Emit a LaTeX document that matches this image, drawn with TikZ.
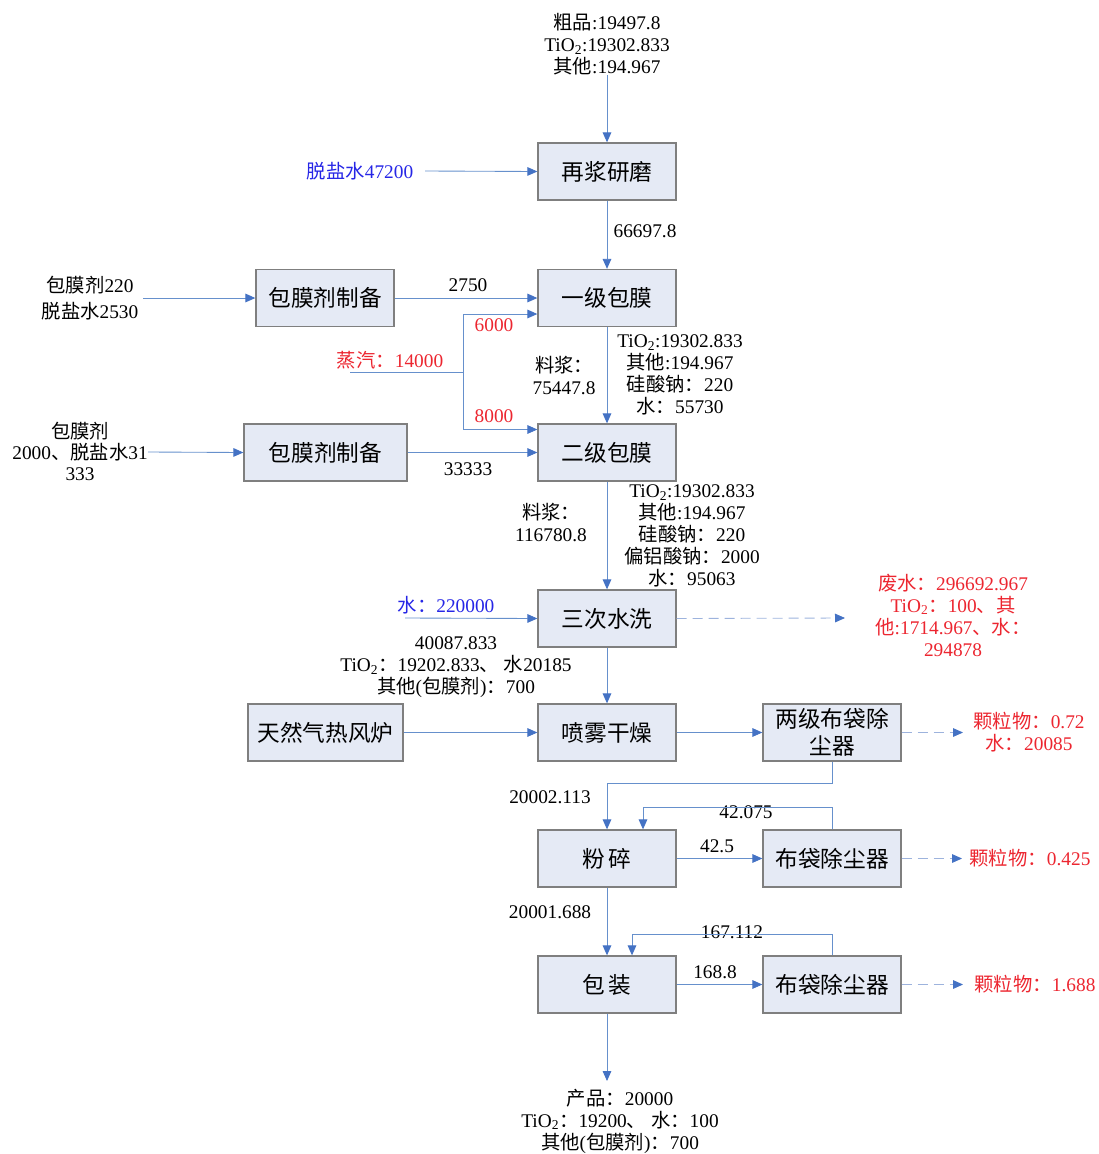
\documentclass[tikz,border=0pt]{standalone}
\usepackage{fontspec}
\setmainfont{Liberation Serif}
\newfontfamily\cjk{Noto Sans CJK SC}
\usetikzlibrary{arrows.meta}
\newcommand\zh[1]{{\cjk #1}}
\definecolor{boxfill}{HTML}{E5EAF5}
\definecolor{boxline}{HTML}{7F7F7F}
\definecolor{flowblue}{HTML}{6690CC}
\definecolor{tipblue}{HTML}{4472C4}
\definecolor{dashblue}{HTML}{9DB3DD}
\definecolor{labred}{HTML}{EC2630}
\definecolor{labblue}{HTML}{2626E6}
\tikzset{
  proc/.style={draw=boxline, fill=boxfill, line width=1pt, minimum width=103.5pt,
    minimum height=42.75pt, inner sep=0pt, align=center,
    font=\cjk\fontsize{17}{20}\selectfont},
  lab/.style={inner sep=0pt, align=center, font=\fontsize{14.5}{16.5}\selectfont},
  flow/.style={draw=flowblue, line width=0.65pt,
    -{Triangle[length=7.5pt,width=6.5pt,color=tipblue]}},
  plain/.style={draw=flowblue, line width=0.65pt},
  vent/.style={draw=dashblue, line width=0.65pt, dash pattern=on 7.5pt off 4.5pt,
    -{Triangle[length=7.5pt,width=6.5pt,color=tipblue]}},
}
\begin{document}
\begin{tikzpicture}[x=0.75pt, y=-0.75pt]
\useasboundingbox (0,0) rectangle (1099,1154);

% process boxes
\node[proc] (g1)  at (607,171.5) {再浆研磨};
\node[proc] (c1)  at (607,298)   {一级包膜};
\node[proc] (c2)  at (607,452.5) {二级包膜};
\node[proc] (w3)  at (607,618.5) {三次水洗};
\node[proc] (sd)  at (607,732.5) {喷雾干燥};
\node[proc] (fs)  at (607,858.5) {粉\,碎};
\node[proc] (bz)  at (607,984.5) {包\,装};
\node[proc] (p1)  at (325,298)   {包膜剂制备};
\node[proc, minimum width=122.25pt] (p2) at (325.5,452.5) {包膜剂制备};
\node[proc, minimum width=116.25pt] (hf) at (325.5,732.5) {天然气热风炉};
\node[proc, text width=100pt] (dc) at (832,732.5) {两级布袋除\\尘器};
\node[proc] (bd1) at (832,858.5) {布袋除尘器};
\node[proc] (bd2) at (832,984.5) {布袋除尘器};

% stream labels
\node[lab] (tTop) at (607,44) {\zh{粗品}:19497.8\\TiO\textsubscript{2}:19302.833\\\zh{其他}:194.967};
\node[lab, text=labblue] (tDw) at (360,171) {\zh{脱盐水}47200};
\node[lab] (t1) at (645,231) {66697.8};
\node[lab, font=\fontsize{14.5}{19.5}\selectfont] (tIn1) at (90,298) {\zh{包膜剂}220\\\zh{脱盐水}2530};
\node[lab] (t2750) at (468,285) {2750};
\node[lab, text=labred] (tSteam) at (390,360) {\zh{蒸汽：}14000};
\node[lab, text=labred] (t6000) at (494,325) {6000};
\node[lab, text=labred] (t8000) at (494,416) {8000};
\node[lab, font=\fontsize{14.5}{15.75}\selectfont] (tIn2) at (80,451) {\zh{包膜剂}\\2000\zh{、脱盐水}31\\333};
\node[lab] (t33333) at (468,469) {33333};
\node[lab] (tS1) at (564,375) {\zh{料浆：}\\75447.8};
\node[lab] (tC1) at (680,375) {TiO\textsubscript{2}:19302.833\\\zh{其他}:194.967\\\zh{硅酸钠：}220\\\zh{水：}55730};
\node[lab] (tS2) at (551,522) {\zh{料浆：}\\116780.8};
\node[lab] (tC2) at (692,536) {TiO\textsubscript{2}:19302.833\\\zh{其他}:194.967\\\zh{硅酸钠：}220\\\zh{偏铝酸钠：}2000\\\zh{水：}95063};
\node[lab, text=labblue] (tW) at (446,605) {\zh{水：}220000};
\node[lab] (tW3) at (456,667) {40087.833\\TiO\textsubscript{2}\zh{：}19202.833\zh{、} \zh{水}20185\\\zh{其他}(\zh{包膜剂})\zh{：}700};
\node[lab, text=labred] (tWaste) at (953,615) {\zh{废水：}296692.967\\TiO\textsubscript{2}\zh{：}100\zh{、其}\\\zh{他}:1714.967\zh{、水：}\\294878};
\node[lab, text=labred] (tDc) at (1029,732) {\zh{颗粒物：}0.72\\\zh{水：}20085};
\node[lab] (t20002) at (550,797) {20002.113};
\node[lab] (t42075) at (746,812) {42.075};
\node[lab] (t425) at (717,846) {42.5};
\node[lab, text=labred] (tP1) at (1030,858) {\zh{颗粒物：}0.425};
\node[lab] (t20001) at (550,912) {20001.688};
\node[lab] (t167) at (732,932) {167.112};
\node[lab] (t1688) at (715,972) {168.8};
\node[lab, text=labred] (tP2) at (1035,984) {\zh{颗粒物：}1.688};
\node[lab] (tOut) at (620,1121) {\zh{产品：}20000\\TiO\textsubscript{2}\zh{：}19200\zh{、} \zh{水：}100\\\zh{其他}(\zh{包膜剂})\zh{：}700};

% free ends of the feed and vent lines
\coordinate (aDw)  at (425,171);
\coordinate (aIn1) at (143,298);
\coordinate (aIn2) at (148,452);
\coordinate (st0)  at (350,372);
\coordinate (st1)  at (463,372);
\coordinate (aW)   at (405,618);
\coordinate (vW)   at (845,618);
\coordinate (vDc)  at (963,732.5);
\coordinate (v1)   at (962,858.5);
\coordinate (v2)   at (963,984.5);
\coordinate (aOut) at (607,1081);

% main line
\draw[flow] (tTop.south) -- (g1.north);
\draw[flow] (aDw) -- (g1.west);
\draw[flow] (g1) -- (c1);
\draw[flow] (c1) -- (c2);
\draw[flow] (c2) -- (w3);
\draw[flow] (w3) -- (sd);
\draw[flow] (fs) -- (bz);
\draw[flow] (bz.south) -- (aOut);

% coating agent and steam feeds
\draw[flow] (aIn1) -- (p1.west);
\draw[flow] (p1) -- (c1);
\draw[flow] (aIn2) -- (p2.west);
\draw[flow] (p2) -- (c2);
\draw[plain] (st0) -- (st1);
\draw[flow] (st1) |- ([yshift=-12pt]c1.west);
\draw[flow] (st1) |- ([yshift=17.25pt]c2.west);

% washing and drying
\draw[flow] (aW) -- (w3.west);
\draw[vent] (w3.east) -- (vW);
\draw[flow] (hf) -- (sd);
\draw[flow] (sd) -- (dc);
\draw[vent] (dc.east) -- (vDc);
\draw[flow] (dc.south) -- ++(0,22) -| (fs.north);

% milling and packing with dust collection
\draw[flow] (fs) -- (bd1);
\draw[flow] (bd1.north) -- ++(0,-22) -| ([xshift=27pt]fs.north);
\draw[vent] (bd1.east) -- (v1);
\draw[flow] (bz) -- (bd2);
\draw[flow] (bd2.north) -- ++(0,-21) -| ([xshift=18.75pt]bz.north);
\draw[vent] (bd2.east) -- (v2);
\end{tikzpicture}
\end{document}
